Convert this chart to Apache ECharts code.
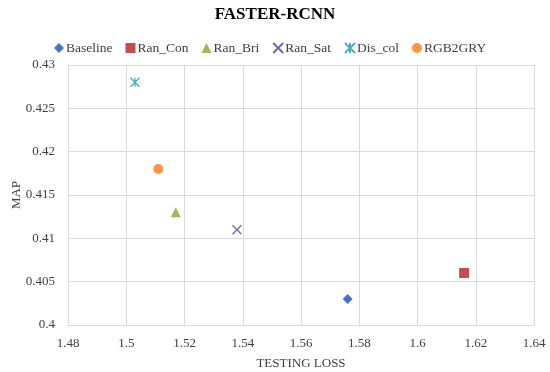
<!DOCTYPE html>
<html><head><meta charset="utf-8">
<script src="https://cdn.jsdelivr.net/npm/echarts@6/dist/echarts.min.js"></script>
<style>html,body{margin:0;padding:0;background:#fff}#c{width:550px;height:372px}</style>
</head><body><div id="c"></div>
<script>
const seriesNames = ['Baseline','Ran_Con','Ran_Bri','Ran_Sat','Dis_col','RGB2GRY'];
const testingLoss = [1.576, 1.616, 1.517, 1.538, 1.503, 1.511];
const mapValues = [0.403, 0.406, 0.413, 0.411, 0.428, 0.418];
const xTicks = [1.48,1.5,1.52,1.54,1.56,1.58,1.6,1.62,1.64];
const yTicks = [0.4,0.405,0.41,0.415,0.42,0.425,0.43];

const colors = ['#4472C4','#C0504D','#9BBB59','#8064A2','#4BACC6','#F79646'];
const symbols = ['diamond','rect','triangle','path://M0,0L10,10M10,0L0,10','path://M0,0L10,10M10,0L0,10M5,0L5,10','circle'];
const sizes = [10,10,10,9,9,10];
const font = '"Liberation Serif","Times New Roman",serif';

const series = seriesNames.map((n,i)=>{
  const stroke = i===3 || i===4;
  return {
    name:n, type:'scatter',
    symbol: symbols[i], symbolSize: sizes[i],
    data:[[testingLoss[i], mapValues[i]]],
    itemStyle: stroke ? {color:'rgba(0,0,0,0)', borderColor:colors[i], borderWidth:1.3, opacity:1} : {color:colors[i], opacity:1}
  };
});

const chart = echarts.init(document.getElementById('c'));
chart.setOption({
  animation:false,
  title:{text:'FASTER-RCNN', left:'center', top:1,
    textStyle:{fontFamily:font, fontSize:17, fontWeight:'bold', color:'#000'}},
  legend:{top:36, left:49, itemWidth:10, itemHeight:10, itemGap:13,
    textStyle:{fontFamily:font, fontSize:13.5, color:'#404040', padding:[0,0,0,-3]},
    data:seriesNames.map((n,i)=>({name:n, icon:symbols[i]}))},
  grid:{left:68, right:16, top:65, bottom:47, outerBoundsMode:'none', containLabel:false},
  xAxis:{type:'value', min:xTicks[0], max:xTicks[xTicks.length-1], interval:0.02,
    name:'TESTING LOSS', nameLocation:'middle', nameGap:32, nameMoveOverlap:false,
    nameTextStyle:{fontFamily:font, fontSize:13, color:'#404040'},
    axisLine:{show:true, lineStyle:{color:'#d9d9d9'}}, axisTick:{show:false},
    axisLabel:{fontFamily:font, fontSize:13, color:'#404040', margin:12,
      formatter:v=>String(+v.toFixed(2))},
    splitLine:{show:true, lineStyle:{color:'#d9d9d9', width:1}}},
  yAxis:{type:'value', min:yTicks[0], max:yTicks[yTicks.length-1], interval:0.005,
    name:'MAP', nameLocation:'middle', nameGap:45, nameMoveOverlap:false,
    nameTextStyle:{fontFamily:font, fontSize:13, color:'#404040'},
    axisLine:{show:true, lineStyle:{color:'#d9d9d9'}}, axisTick:{show:false},
    axisLabel:{fontFamily:font, fontSize:13, color:'#404040', margin:13,
      formatter:v=>String(+v.toFixed(3))},
    splitLine:{show:true, lineStyle:{color:'#d9d9d9', width:1}}},
  series
});
</script></body></html>
